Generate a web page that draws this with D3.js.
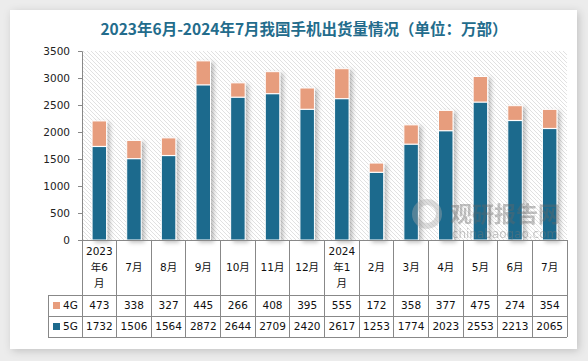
<!DOCTYPE html>
<html><head><meta charset="utf-8">
<script src="https://cdn.jsdelivr.net/npm/d3@7"></script>
<style>
html,body{margin:0;padding:0;background:#ececec;}
svg{display:block;}
</style></head>
<body>
<svg id="c" width="588" height="361"></svg>
<script>
const categories = [["2023","年6","月"],["7月"],["8月"],["9月"],["10月"],["11月"],["12月"],["2024","年1","月"],["2月"],["3月"],["4月"],["5月"],["6月"],["7月"]];
const series4G = [473,338,327,445,266,408,395,555,172,358,377,475,274,354];
const series5G = [1732,1506,1564,2872,2644,2709,2420,2617,1253,1774,2023,2553,2213,2065];
const yTicks = [0,500,1000,1500,2000,2500,3000,3500];
const title = "2023年6月-2024年7月我国手机出货量情况（单位：万部）";

const C5 = "#1d6a8d", C4 = "#e79d7d";
const font = "'DejaVu Sans','Noto Sans CJK SC',sans-serif";
const svg = d3.select("#c");
const defs = svg.append("defs");

const fs = defs.append("filter").attr("id","cs").attr("x","-10%").attr("y","-10%").attr("width","120%").attr("height","120%");
fs.append("feDropShadow").attr("dx",2).attr("dy",2).attr("stdDeviation",4).attr("flood-color","#000").attr("flood-opacity",0.18);
const bs = defs.append("filter").attr("id","bs").attr("x","-20%").attr("y","-10%").attr("width","180%").attr("height","130%");
bs.append("feDropShadow").attr("dx",3).attr("dy",2).attr("stdDeviation",2).attr("flood-color","#000").attr("flood-opacity",0.25);

const pat = defs.append("pattern").attr("id","hatch").attr("patternUnits","userSpaceOnUse").attr("width",4).attr("height",4);
pat.append("rect").attr("width",4).attr("height",4).attr("fill","#fff");
pat.append("path").attr("d","M-1,-1 L5,5 M-1,3 L1,5 M3,-1 L5,1").attr("stroke","#dedede").attr("stroke-width",0.9);

svg.append("rect").attr("x",10).attr("y",10).attr("width",567).attr("height",339).attr("fill","#fff").attr("filter","url(#cs)");

svg.append("text").attr("x",304).attr("y",35).attr("text-anchor","middle")
  .attr("font-family","'Noto Sans CJK SC',sans-serif").attr("font-weight","bold").attr("font-size",15.5)
  .attr("fill","#236c8c").text(title);

const X0 = 82, X1 = 567, YT = 51, YB = 240;
const x = d3.scaleBand().domain(d3.range(categories.length)).range([X0,X1]).paddingInner(0).paddingOuter(0);
const y = d3.scaleLinear().domain([0,3500]).range([YB,YT]);

svg.append("rect").attr("x",X0).attr("y",YT).attr("width",X1-X0).attr("height",YB-YT).attr("fill","url(#hatch)");

const bw = 14.5;
const g = svg.append("g");
const groups = g.selectAll("g.b").data(d3.range(categories.length)).join("g").attr("class","b").attr("filter","url(#bs)");
groups.append("rect").attr("x",i=>x(i)+x.bandwidth()/2-bw/2).attr("width",bw)
  .attr("y",i=>y(series5G[i])).attr("height",i=>YB-y(series5G[i])).attr("fill",C5);
groups.append("rect").attr("x",i=>x(i)+x.bandwidth()/2-bw/2).attr("width",bw)
  .attr("y",i=>y(series5G[i]+series4G[i])).attr("height",i=>y(series5G[i])-y(series5G[i]+series4G[i])).attr("fill",C4);
groups.append("line").attr("x1",i=>x(i)+x.bandwidth()/2-bw/2).attr("x2",i=>x(i)+x.bandwidth()/2+bw/2)
  .attr("y1",i=>y(series5G[i])).attr("y2",i=>y(series5G[i])).attr("stroke","#fff").attr("stroke-width",1.2);
groups.each(function(i){
  d3.select(this).append("rect").attr("x",x(i)+x.bandwidth()/2-bw/2).attr("width",bw)
   .attr("y",y(series5G[i]+series4G[i])).attr("height",YB-y(series5G[i]+series4G[i]))
   .attr("fill","none").attr("stroke","#fff").attr("stroke-width",1);
});

// watermark (on top of bars)
const wm = svg.append("g").attr("opacity",0.4);
wm.append("circle").attr("cx",427).attr("cy",214).attr("r",12).attr("fill","none").attr("stroke","#aaa").attr("stroke-width",6);
wm.append("text").attr("x",505).attr("y",222).attr("text-anchor","middle").attr("font-family","'Noto Sans CJK SC',sans-serif").attr("font-weight","bold").attr("font-size",22).attr("fill","#666").text("观研报告网");
wm.append("text").attr("x",505).attr("y",238).attr("text-anchor","middle").attr("font-family",font).attr("font-size",12).attr("fill","#777").text("chinabaogao.com");

// y axis
const ya = svg.append("g").attr("transform",`translate(${X0},0)`)
  .call(d3.axisLeft(y).tickValues(yTicks).tickSize(4).tickPadding(8).tickFormat(d3.format("d")));
ya.select(".domain").attr("stroke","#888");
ya.selectAll(".tick line").attr("stroke","#888");
ya.selectAll("text").attr("font-family",font).attr("font-size",10.5).attr("fill","#222");

// table
const TL = 48, R0 = 240, R1 = 295, R2 = 316, R3 = 337;
const tg = svg.append("g").attr("stroke","#888").attr("stroke-width",1).attr("shape-rendering","crispEdges");
tg.append("line").attr("x1",X0).attr("x2",X1).attr("y1",R0).attr("y2",R0);
[R1,R2,R3].forEach(r=>tg.append("line").attr("x1",TL).attr("x2",X1).attr("y1",r).attr("y2",r));
tg.append("line").attr("x1",TL).attr("x2",TL).attr("y1",R1).attr("y2",R3);
d3.range(categories.length+1).forEach(i=>{
  const xx = i<categories.length ? x(i) : X1;
  tg.append("line").attr("x1",xx).attr("x2",xx).attr("y1",R0).attr("y2",R3);
});

const tt = svg.append("g").attr("font-family",font).attr("font-size",10.5).attr("fill","#111").attr("text-anchor","middle");
categories.forEach((lines,i)=>{
  const cx = x(i)+x.bandwidth()/2;
  const lh = 16;
  const start = (R0+R1)/2 - (lines.length-1)*lh/2;
  lines.forEach((s,k)=>tt.append("text").attr("x",cx).attr("y",start+k*lh).attr("dy","0.36em").text(s));
  tt.append("text").attr("x",cx).attr("y",(R1+R2)/2).attr("dy","0.36em").text(series4G[i]);
  tt.append("text").attr("x",cx).attr("y",(R2+R3)/2).attr("dy","0.36em").text(series5G[i]);
});
[["4G",C4,(R1+R2)/2],["5G",C5,(R2+R3)/2]].forEach(([lab,col,cy])=>{
  svg.append("rect").attr("x",53).attr("y",cy-3.5).attr("width",7).attr("height",7).attr("fill",col);
  svg.append("text").attr("x",63).attr("y",cy).attr("dy","0.36em").attr("font-family",font).attr("font-size",10.5).attr("fill","#111").text(lab);
});
</script>
</body></html>
